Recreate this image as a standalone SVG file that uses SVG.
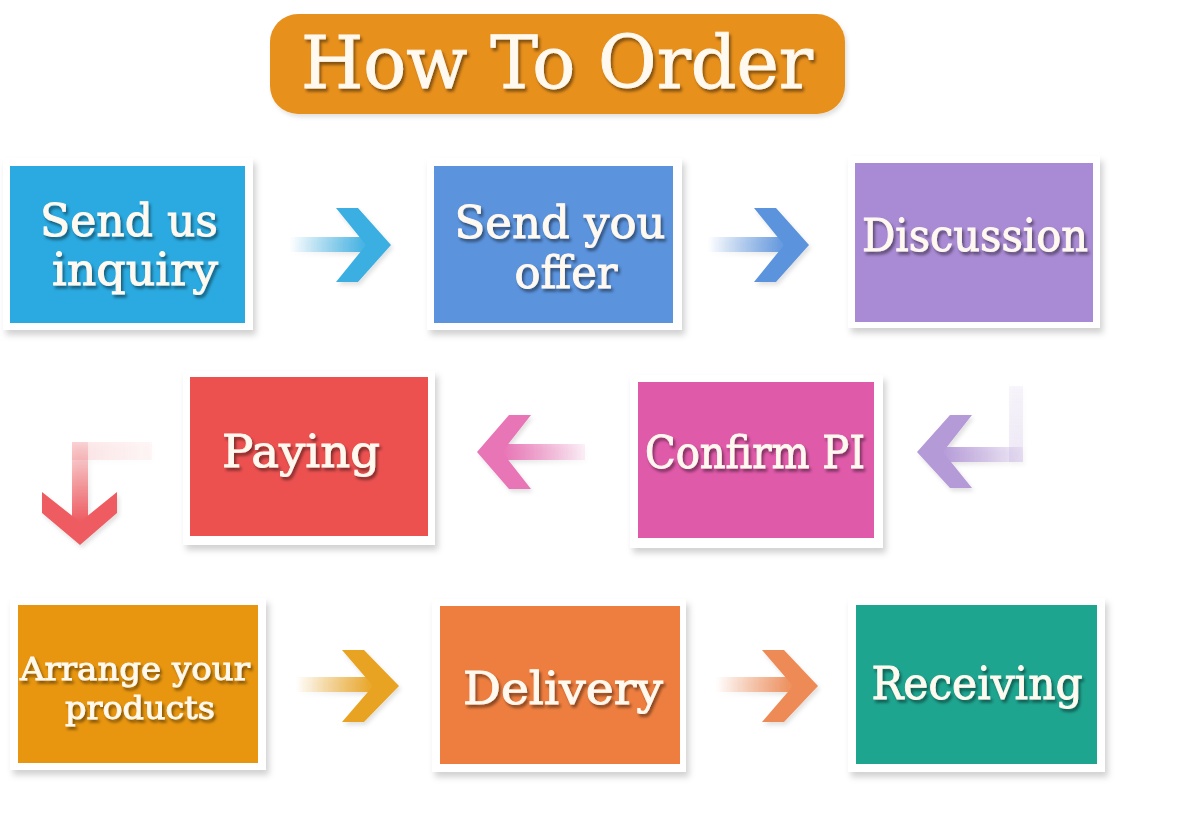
<svg xmlns="http://www.w3.org/2000/svg" width="1199" height="817" viewBox="0 0 1199 817">
<defs>
<filter id="fs" x="-10%" y="-10%" width="125%" height="130%"><feDropShadow dx="3" dy="5" stdDeviation="3" flood-color="#000" flood-opacity="0.18"/></filter>
<filter id="ts" x="-10%" y="-20%" width="125%" height="150%"><feDropShadow dx="2" dy="3" stdDeviation="1.6" flood-color="#000" flood-opacity="0.45"/></filter>
<filter id="as" x="-20%" y="-20%" width="150%" height="150%"><feDropShadow dx="2" dy="3" stdDeviation="2" flood-color="#000" flood-opacity="0.12"/></filter>
<linearGradient id="g1" x1="0" x2="1" y1="0" y2="0"><stop offset="0" stop-color="#3AAEE2" stop-opacity="0"/><stop offset="1" stop-color="#3AAEE2"/></linearGradient>
<linearGradient id="g2" x1="0" x2="1" y1="0" y2="0"><stop offset="0" stop-color="#5B93DD" stop-opacity="0"/><stop offset="1" stop-color="#5B93DD"/></linearGradient>
<linearGradient id="g3" x1="1" x2="0" y1="0" y2="0"><stop offset="0" stop-color="#B59AD8" stop-opacity="0.15"/><stop offset="1" stop-color="#B59AD8"/></linearGradient>
<linearGradient id="g3v" x1="0" x2="0" y1="0" y2="1"><stop offset="0" stop-color="#B59AD8" stop-opacity="0.1"/><stop offset="1" stop-color="#B59AD8" stop-opacity="0.2"/></linearGradient>
<linearGradient id="g4" x1="1" x2="0" y1="0" y2="0"><stop offset="0" stop-color="#E874B5" stop-opacity="0.1"/><stop offset="1" stop-color="#E874B5"/></linearGradient>
<linearGradient id="g5h" x1="1" x2="0" y1="0" y2="0"><stop offset="0" stop-color="#EE5C62" stop-opacity="0.05"/><stop offset="1" stop-color="#EE5C62" stop-opacity="0.15"/></linearGradient>
<linearGradient id="g5" x1="0" x2="0" y1="0" y2="1"><stop offset="0" stop-color="#EE5C62" stop-opacity="0.15"/><stop offset="1" stop-color="#EE5C62"/></linearGradient>
<linearGradient id="g6" x1="0" x2="1" y1="0" y2="0"><stop offset="0" stop-color="#E9A320" stop-opacity="0"/><stop offset="1" stop-color="#E9A320"/></linearGradient>
<linearGradient id="g7" x1="0" x2="1" y1="0" y2="0"><stop offset="0" stop-color="#EE8A55" stop-opacity="0"/><stop offset="1" stop-color="#EE8A55"/></linearGradient>
</defs>
<style>
.frame{fill:#fff;filter:url(#fs)}
.lbl{font-family:"DejaVu Serif","Liberation Serif",serif;fill:#FFF9EF;text-anchor:middle;filter:url(#ts);stroke:#FFF9EF;stroke-width:0.9}
.big{font-size:44px}
.sm{font-size:32px}
</style>
<rect width="1199" height="817" fill="#fff"/>

<g id="title">
<rect x="270" y="14" width="575" height="100" rx="28" fill="#E8901F" filter="url(#as)"/>
<text class="lbl" x="557" y="88" font-size="72" stroke-width="1.6" textLength="512" lengthAdjust="spacingAndGlyphs">How To Order</text>
</g>

<g id="connectors">
<g id="a1" filter="url(#as)">
<rect x="290" y="237" width="80" height="15" fill="url(#g1)"/>
<polygon points="336,208 358,208 391,245 358,282 336,282 366,245" fill="#3AAEE2"/>
</g>
<g id="a2" filter="url(#as)">
<rect x="708" y="237" width="80" height="15" fill="url(#g2)"/>
<polygon points="754,208 776,208 809,245 776,282 754,282 784,245" fill="#5B93DD"/>
</g>
<g id="a3" filter="url(#as)">
<rect x="1009" y="386" width="14" height="76" fill="url(#g3v)"/>
<rect x="940" y="447" width="83" height="15" fill="url(#g3)"/>
<polygon points="950,415 972,415 943,452 972,488 950,488 917,452" fill="#B59AD8"/>
</g>
<g id="a4" filter="url(#as)">
<rect x="502" y="444" width="83" height="16" fill="url(#g4)"/>
<polygon points="509,415 531,415 502,452 531,489 509,489 477,452" fill="#E874B5"/>
</g>
<g id="a5" filter="url(#as)">
<rect x="72" y="442" width="80" height="18" fill="url(#g5h)"/>
<rect x="72" y="442" width="16" height="80" fill="url(#g5)"/>
<polygon points="42,492 42,513 80,545 117,513 117,492 80,522" fill="#EE5C62"/>
</g>
<g id="a6" filter="url(#as)">
<rect x="296" y="677" width="80" height="15" fill="url(#g6)"/>
<polygon points="342,650 364,650 399,686 364,722 342,722 373,686" fill="#E9A320"/>
</g>
<g id="a7" filter="url(#as)">
<rect x="716" y="677" width="80" height="15" fill="url(#g7)"/>
<polygon points="762,650 784,650 818,686 784,722 762,722 793,686" fill="#EE8A55"/>
</g>
</g>

<g id="n1">
<rect class="frame" x="3" y="158" width="250" height="172"/>
<rect x="10" y="166" width="235" height="157" fill="#2AAAE1"/>
<text class="lbl big" x="129" y="236" textLength="178" lengthAdjust="spacingAndGlyphs">Send us</text>
<text class="lbl big" x="135" y="285" textLength="166" lengthAdjust="spacingAndGlyphs">inquiry</text>
</g>
<g id="n2">
<rect class="frame" x="427" y="158" width="255" height="172"/>
<rect x="434" y="166" width="239" height="157" fill="#5B93DD"/>
<text class="lbl big" x="560" y="238" textLength="211" lengthAdjust="spacingAndGlyphs">Send you</text>
<text class="lbl big" x="566" y="288" textLength="103" lengthAdjust="spacingAndGlyphs">offer</text>
</g>
<g id="n3">
<rect class="frame" x="848" y="156" width="252" height="172"/>
<rect x="855" y="163" width="238" height="159" fill="#A98AD4"/>
<text class="lbl big" x="975" y="251" textLength="226" lengthAdjust="spacingAndGlyphs">Discussion</text>
</g>
<g id="n4">
<rect class="frame" x="183" y="371" width="252" height="174"/>
<rect x="190" y="377" width="238" height="159" fill="#EC5150"/>
<text class="lbl big" x="301" y="467" textLength="158" lengthAdjust="spacingAndGlyphs">Paying</text>
</g>
<g id="n5">
<rect class="frame" x="630" y="375" width="253" height="173"/>
<rect x="638" y="382" width="236" height="156" fill="#E05AAA"/>
<text class="lbl big" x="755" y="468" textLength="220" lengthAdjust="spacingAndGlyphs">Confirm PI</text>
</g>
<g id="n6">
<rect class="frame" x="10" y="598" width="256" height="172"/>
<rect x="18" y="605" width="240" height="158" fill="#E8960F"/>
<text class="lbl sm" x="135" y="680" textLength="230" lengthAdjust="spacingAndGlyphs">Arrange your</text>
<text class="lbl sm" x="140" y="719" textLength="150" lengthAdjust="spacingAndGlyphs">products</text>
</g>
<g id="n7">
<rect class="frame" x="432" y="599" width="254" height="173"/>
<rect x="440" y="606" width="240" height="158" fill="#EE7E3F"/>
<text class="lbl big" x="563" y="704" textLength="200" lengthAdjust="spacingAndGlyphs">Delivery</text>
</g>
<g id="n8">
<rect class="frame" x="848" y="598" width="257" height="174"/>
<rect x="856" y="605" width="241" height="159" fill="#1EA590"/>
<text class="lbl big" x="977" y="699" textLength="211" lengthAdjust="spacingAndGlyphs">Receiving</text>
</g>
</svg>
